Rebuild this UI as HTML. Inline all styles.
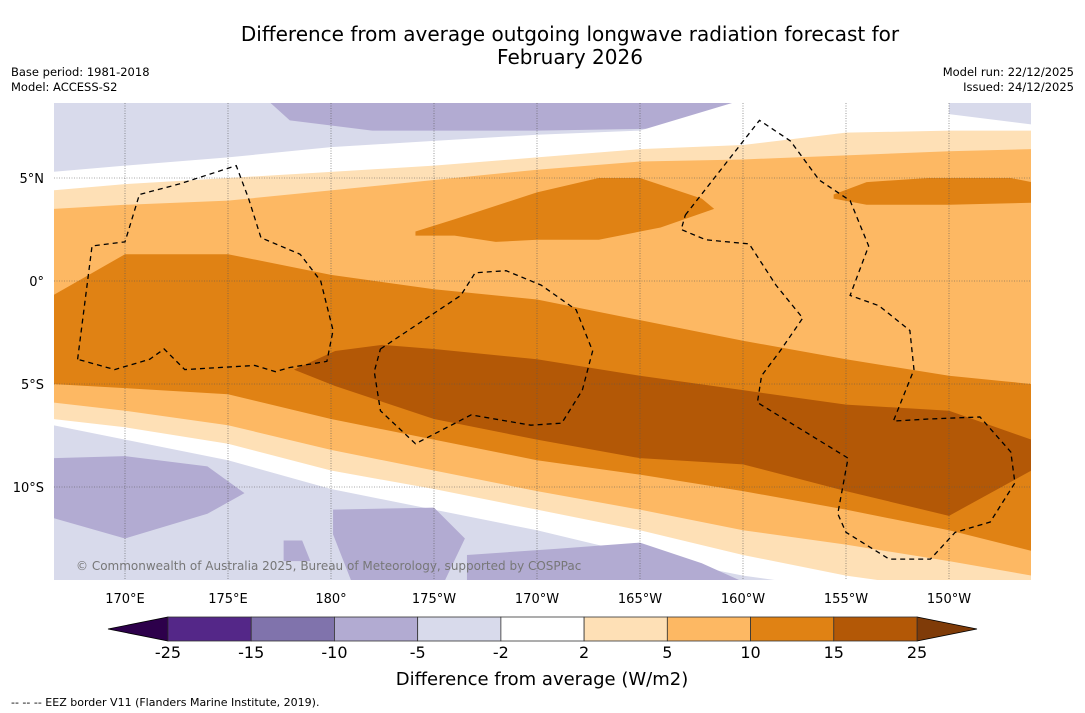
<!DOCTYPE html>
<html><head><meta charset="utf-8">
<style>
body{margin:0;background:#fff;width:1085px;height:713px;overflow:hidden;font-family:"DejaVu Sans","Liberation Sans",sans-serif;}
svg{position:absolute;left:0;top:0;}
</style></head>
<body>
<svg id="chart" width="1085" height="713" viewBox="0 0 1085 713">
<text x="570" y="41" text-anchor="middle" font-size="20" fill="#000">Difference from average outgoing longwave radiation forecast for</text>
<text x="570" y="64" text-anchor="middle" font-size="20" fill="#000">February 2026</text>
<text x="11" y="76" font-size="11.5">Base period: 1981-2018</text>
<text x="11" y="91" font-size="11.5">Model: ACCESS-S2</text>
<text x="1074" y="76" font-size="11.5" text-anchor="end">Model run: 22/12/2025</text>
<text x="1074" y="91" font-size="11.5" text-anchor="end">Issued: 24/12/2025</text>
<defs><clipPath id="mapclip"><rect x="54" y="103" width="977" height="477"/></clipPath></defs>
<g id="map" clip-path="url(#mapclip)">
<rect x="54" y="103" width="977" height="477" fill="#d8daeb"/>
</g>
<g id="grid"></g>
<g id="eez" clip-path="url(#mapclip)"></g>
<text x="76" y="570" font-size="12" fill="#777">© Commonwealth of Australia 2025, Bureau of Meteorology, supported by COSPPac</text>
<g id="lonlabels"></g>
<g id="latlabels"></g>
<g id="colorbar"></g>
<text x="542" y="685" text-anchor="middle" font-size="18">Difference from average (W/m2)</text>
<text x="11" y="706" font-size="11">--  --  -- EEZ border V11 (Flanders Marine Institute, 2019).</text>
</svg>
<script>
// ---- data ----
const lons=[166.5,170,175,180,185,190,195,200,205,210,214];
const curveA=[5.3,5.6,6.0,6.5,6.8,7.1,7.3,8.8,8.8,8.8,8.8];
const curveB=[4.4,4.7,5.0,5.3,5.6,6.0,6.4,6.6,7.2,7.3,7.3];
const curveC=[3.5,3.7,3.9,4.4,4.9,5.4,5.8,5.9,6.1,6.3,6.4];
const curveD=[-0.7,1.3,1.3,0.3,-0.4,-0.9,-1.9,-2.9,-3.8,-4.6,-5.0];
const curveF=[-5.0,-5.2,-5.5,-6.7,-7.7,-8.7,-9.4,-10.2,-11.1,-12.1,-13.1];
const curveG=[-5.9,-6.3,-7.0,-8.2,-9.2,-10.2,-11.1,-12.1,-12.8,-13.6,-14.3];
const curveH=[-6.7,-7.1,-7.9,-9.2,-10.1,-11.1,-12.1,-13.3,-14.3,-15,-15.5];
const curveI=[-7.0,-7.7,-8.7,-10.1,-11.1,-12.1,-13.3,-14.3,-15,-15.5,-16];
const brownLon=[178.2,180.2,182.5,185,190,195,200,205,210,214,214,210,205,200,195,190,185,180.2];
const brownLat=[-4.3,-3.4,-3.1,-3.3,-3.8,-4.6,-5.3,-6.0,-6.3,-7.7,-9.2,-11.4,-10.2,-8.9,-8.6,-7.7,-6.7,-5.1];
const orN1Lon=[184.1,186,190,193,195,198,198.6,196,193,190,188,186,184.1];
const orN1Lat=[2.4,3.0,4.3,5.0,5.0,4.0,3.5,2.6,2.0,2.0,1.9,2.2,2.2];
const orN2Lon=[204.4,206,209,213,215,214,210,206,204.4];
const orN2Lat=[4.2,4.8,5.0,5.0,4.6,3.8,3.7,3.7,4.0];
const purpN=[[177,8.7],[178,7.8],[182,7.3],[190,7.3],[196,7.4],[199,7.7],[200,8.7]];
const purpS1=[[166.5,-8.6],[170,-8.5],[174,-9.0],[175.8,-10.3],[174,-11.3],[170,-12.5],[166.5,-11.5]];
const purpS2=[[180.1,-11.1],[185,-11.0],[186.5,-12.5],[185.5,-14.6],[181,-14.6],[180.1,-12.3]];
const purpS3=[[186.6,-13.3],[191,-13.0],[195,-12.7],[198,-13.7],[200,-14.6],[186.6,-14.6]];
const purpS4=[[177.7,-12.6],[178.6,-12.6],[179,-13.6],[177.7,-13.6]];
const purpNE=[[210,8.7],[214,8.7],[214,7.6],[210,8.1]];
const levels=["-25","-15","-10","-5","-2","2","5","10","15","25"];
const binColors=["#542788","#8073ac","#b2abd2","#d8daeb","#ffffff","#fee0b6","#fdb863","#e08214","#b35806"];
const lonTicks=[170,175,180,185,190,195,200,205,210];
const lonTickLabels=["170°E","175°E","180°","175°W","170°W","165°W","160°W","155°W","150°W"];
const latTicks=[5,0,-5,-10];
const latTickLabels=["5°N","0°","5°S","10°S"];
const eez1=[[167.7,-3.8],[168.4,1.7],[170,1.9],[170.7,4.2],[172.6,4.7],[175.4,5.6],[176,4.0],[176.6,2.1],[178.5,1.3],[179.5,0],[180.1,-2.4],[179.8,-3.9],[178,-4.2],[177.3,-4.4],[176.3,-4.1],[172.9,-4.3],[171.9,-3.3],[171.2,-3.8],[169.5,-4.3],[167.7,-3.8]];
const eez2=[[182.4,-3.3],[186.3,-0.7],[187,0.4],[188.5,0.5],[190.2,-0.2],[191.9,-1.4],[192.7,-3.4],[192.2,-5.3],[191.2,-6.9],[189.7,-7.0],[186.8,-6.5],[184.1,-7.9],[182.4,-6.3],[182.1,-4.4],[182.4,-3.3]];
const eez3=[[197.2,3.2],[200.8,7.8],[202.3,6.8],[203.7,4.9],[205.2,3.9],[206.1,1.7],[205.2,-0.7],[206.6,-1.2],[208.1,-2.4],[208.3,-4.3],[207.3,-6.8],[209,-6.7],[211.5,-6.6],[213,-8.3],[213.2,-9.8],[212,-11.7],[210.3,-12.2],[209.1,-13.5],[207.1,-13.5],[205,-12.2],[204.6,-11.3],[205.1,-8.6],[200.7,-5.9],[200.9,-4.6],[201.8,-3.4],[202.9,-1.8],[201.6,-0.2],[200.3,1.8],[198.2,2.0],[197,2.5],[197.2,3.2]];

// ---- axes ----
const X=lon=>125+(lon-170)*20.6;
const Y=lat=>281-lat*20.6;
const NS="http://www.w3.org/2000/svg";
function mk(tag,attrs,parent){const e=document.createElementNS(NS,tag);for(const k in attrs)e.setAttribute(k,attrs[k]);parent.appendChild(e);return e;}
const map=document.getElementById('map');
function band(top,bot,color,name){
  let d='M'+lons.map((l,i)=>X(l)+','+Y(top[i])).join('L');
  d+='L'+lons.slice().reverse().map((l,i)=>X(l)+','+Y(bot[bot.length-1-i])).join('L')+'Z';
  const p=mk('path',{d:d,fill:color},map);
  
  
}
function poly(lo,la,color,name){
  const d='M'+lo.map((l,i)=>X(l)+','+Y(la[i])).join('L')+'Z';
  const p=mk('path',{d:d,fill:color},map);
  
  
}
function polyP(pts,color,name){poly(pts.map(p=>p[0]),pts.map(p=>p[1]),color,name);}
polyP(purpN,'#b2abd2','purple-patch-north');
band(curveA,curveI,'#ffffff','band-neutral');
polyP(purpNE,'#d8daeb','lavender-patch-northeast');
band(curveB,curveH,'#fee0b6','band-2-5');
band(curveC,curveG,'#fdb863','band-5-10');
band(curveD,curveF,'#e08214','band-10-15');
poly(brownLon,brownLat,'#b35806','band-15-25');
poly(orN1Lon,orN1Lat,'#e08214','orange-patch-north-central');
poly(orN2Lon,orN2Lat,'#e08214','orange-patch-north-east');
polyP(purpS1,'#b2abd2','purple-patch-southwest');
polyP(purpS2,'#b2abd2','purple-patch-south-1');
polyP(purpS3,'#b2abd2','purple-patch-south-2');
polyP(purpS4,'#b2abd2','purple-patch-south-3');

const grid=document.getElementById('grid');
lonTicks.forEach((l,i)=>{
  const ln=mk('line',{x1:X(l),x2:X(l),y1:103,y2:580,stroke:'#555','stroke-width':0.6,'stroke-dasharray':'1,1.5'},grid);
  
  
  const t=mk('text',{x:X(l),y:603,'text-anchor':'middle','font-size':13},document.getElementById('lonlabels'));
  t.textContent=lonTickLabels[i];
  
  
});
latTicks.forEach((l,i)=>{
  const ln=mk('line',{x1:54,x2:1031,y1:Y(l),y2:Y(l),stroke:'#555','stroke-width':0.6,'stroke-dasharray':'1,1.5'},grid);
  
  
  const t=mk('text',{x:44,y:Y(l)+5,'text-anchor':'end','font-size':13},document.getElementById('latlabels'));
  t.textContent=latTickLabels[i];
  
  
});
const eez=document.getElementById('eez');
[eez1,eez2,eez3].forEach((pts,i)=>{
  const p=mk('path',{d:'M'+pts.map(q=>X(q[0])+','+Y(q[1])).join('L'),fill:'none',stroke:'#000','stroke-width':1.3,'stroke-dasharray':'5,4'},eez);
  
  
});

// colorbar
const cb=document.getElementById('colorbar');
const cx0=168,cx1=917,cy=617,ch=24,bw=(cx1-cx0)/binColors.length;
const lt=mk('polygon',{points:`108,${cy+ch/2} ${cx0},${cy} ${cx0},${cy+ch}`,fill:'#2d004b',stroke:'#000','stroke-width':0.8},cb);


const rt=mk('polygon',{points:`977,${cy+ch/2} ${cx1},${cy} ${cx1},${cy+ch}`,fill:'#7f3b08',stroke:'#000','stroke-width':0.8},cb);


binColors.forEach((c,i)=>{
  const r=mk('rect',{x:cx0+i*bw,y:cy,width:bw,height:ch,fill:c,stroke:'#333','stroke-width':0.8},cb);
  
  
});
levels.forEach((v,i)=>{
  const t=mk('text',{x:cx0+i*bw,y:658,'text-anchor':'middle','font-size':16},cb);
  t.textContent=v;
  
  
});
</script>
</body></html>
